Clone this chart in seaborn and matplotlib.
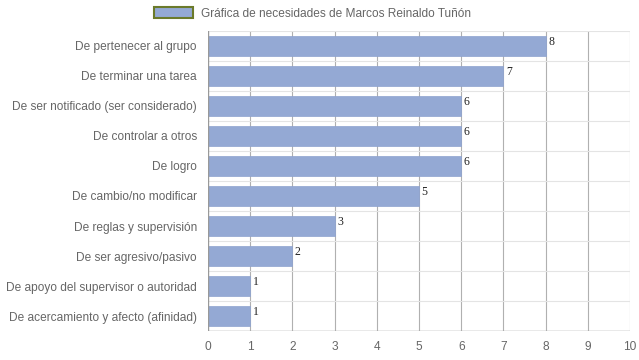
import matplotlib
matplotlib.use('Agg')
import matplotlib.pyplot as plt
import pandas as pd
import seaborn as sns
from matplotlib.patches import Patch

categorias = [
    "De pertenecer al grupo",
    "De terminar una tarea",
    "De ser notificado (ser considerado)",
    "De controlar a otros",
    "De logro",
    "De cambio/no modificar",
    "De reglas y supervisión",
    "De ser agresivo/pasivo",
    "De apoyo del supervisor o autoridad",
    "De acercamiento y afecto (afinidad)",
]
valores = [8, 7, 6, 6, 6, 5, 3, 2, 1, 1]
ticks_x = list(range(0, 11))
titulo = "Gráfica de necesidades de Marcos Reinaldo Tuñón"

df = pd.DataFrame({"categoria": categorias, "valor": valores})

sns.set_style("white")
plt.rcParams['font.family'] = ['Liberation Sans', 'DejaVu Sans']

fig = plt.figure(figsize=(6.39, 3.6), dpi=100)
ax = fig.add_axes([208 / 639, 29 / 360, 422 / 639, 300 / 360])

color_barra = "#94a9d4"
sns.barplot(data=df, y="categoria", x="valor", orient="h", color=color_barra,
            saturation=1, width=0.69, edgecolor="#8ea3cf", linewidth=0.5, ax=ax)

n = len(categorias)
ax.set_xlim(0, 10)
ax.set_xticks(ticks_x)
ax.set_ylim(n - 0.5, -0.5)
ax.set_xlabel("")
ax.set_ylabel("")

# lineas de cuadricula
for x in ticks_x[1:]:
    ax.axvline(x, color="#b0b0b0", lw=0.8, zorder=0)
for i in range(n + 1):
    ax.axhline(i - 0.5, color="#e4e4e4", lw=0.8, zorder=0)
ax.axvline(0, color="#999999", lw=1, zorder=3)
ax.axhline(n - 0.5, color="#999999", lw=1, zorder=3)

for s in ax.spines.values():
    s.set_visible(False)

ax.tick_params(axis="x", colors="#666666", labelsize=8.6, length=5, width=0.8,
               color="#b0b0b0", pad=2)
ax.set_yticks(range(n))
ax.set_yticklabels(categorias)
ax.set_yticks([i - 0.5 for i in range(n + 1)], minor=True)
ax.tick_params(axis="y", which="major", colors="#666666", labelsize=8.6, length=0, pad=8)
ax.tick_params(axis="y", which="minor", length=6, width=0.8, color="#e4e4e4")

# etiquetas de valor
for i, v in enumerate(valores):
    ax.text(v + 0.06, i - 0.33, str(v), ha="left", va="top", fontsize=8.5,
            family="Liberation Serif", color="#222222")

leg_patch = Patch(facecolor=color_barra, edgecolor="#6b7a2a", linewidth=1.5)
fig.legend(handles=[leg_patch], labels=[titulo], loc="center",
           bbox_to_anchor=(0.489, 0.962), frameon=False, fontsize=8.6,
           handlelength=3.3, handleheight=1.0, handletextpad=0.7, labelcolor="#666666")

plt.savefig("out.png", dpi=100)
plt.close()
